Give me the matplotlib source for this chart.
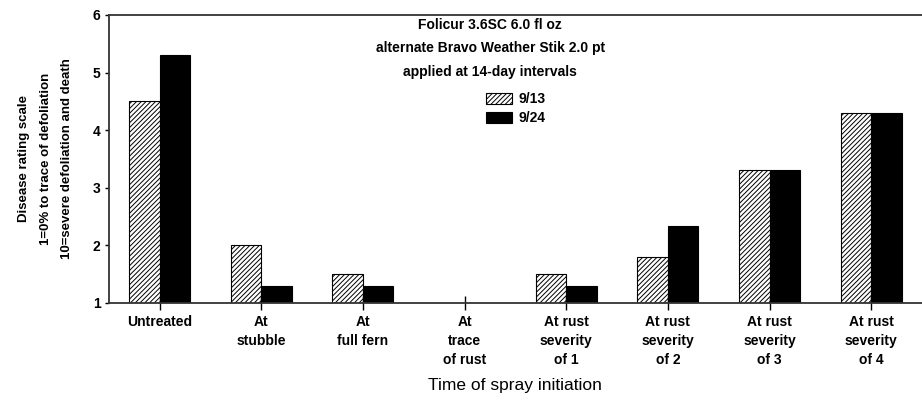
import matplotlib.pyplot as plt
import numpy as np

categories = ["Untreated", "At\nstubble", "At\nfull fern", "At\ntrace\nof rust",
              "At rust\nseverity\nof 1", "At rust\nseverity\nof 2",
              "At rust\nseverity\nof 3", "At rust\nseverity\nof 4"]
sep13 = [4.5, 2.0, 1.5, np.nan, 1.5, 1.8, 3.3, 4.3]
sep24 = [5.3, 1.3, 1.3, np.nan, 1.3, 2.33, 3.3, 4.3]
series_labels = ["9/13", "9/24"]

plt.rcParams['font.family'] = ['Liberation Sans', 'DejaVu Sans']
plt.rcParams['hatch.linewidth'] = 0.7

fig = plt.figure(figsize=(9.22, 4.05), dpi=100)
ax = fig.add_axes([0.118, 0.252, 0.882, 0.711])

x = np.arange(len(categories))
w = 0.3
b1 = np.array(sep13) - 1
b2 = np.array(sep24) - 1
ax.bar(x - w/2, b1, w, bottom=1, facecolor='white', edgecolor='black',
       hatch='///////', linewidth=0.8, label=series_labels[0])
ax.bar(x + w/2, b2, w, bottom=1, facecolor='black', edgecolor='black',
       linewidth=0.8, label=series_labels[1])

ax.set_xlim(-0.5, 7.5)
ax.set_ylim(1, 6)
ax.set_yticks([1, 2, 3, 4, 5, 6])
ax.set_xticks(x)
ax.set_xticklabels(categories, fontsize=10, fontweight='bold', linespacing=1.45)
for lbl in ax.get_yticklabels():
    lbl.set_fontweight('bold')
    lbl.set_fontsize(10)

ax.spines['right'].set_visible(False)
for s in ['left', 'bottom', 'top']:
    ax.spines[s].set_color('#333333')
    ax.spines[s].set_linewidth(1.3)
ax.tick_params(axis='y', which='both', left=True, right=True, direction='out',
               length=6, width=1, pad=3)
ax.tick_params(axis='y', which='both', right=True, direction='out', length=3)
ax.tick_params(axis='x', direction='inout', length=10, width=1, pad=4)

ax.set_ylabel("Disease rating scale\n1=0% to trace of defoliation\n10=severe defoliation and death",
              fontsize=9.5, fontweight='bold', linespacing=2.05, labelpad=14)
ax.set_xlabel("Time of spray initiation", fontsize=12.5, labelpad=8)

ax.text(0.469, 0.99, "Folicur 3.6SC 6.0 fl oz\nalternate Bravo Weather Stik 2.0 pt\napplied at 14-day intervals",
        transform=ax.transAxes, ha='center', va='top', fontsize=10,
        fontweight='bold', linespacing=1.85)
ax.legend(loc='upper left', bbox_to_anchor=(0.448, 0.775), frameon=False,
          prop={'size': 10, 'weight': 'bold'}, handlelength=1.9,
          handleheight=0.9, handletextpad=0.5, labelspacing=0.35)

plt.savefig("out.png", dpi=100)
